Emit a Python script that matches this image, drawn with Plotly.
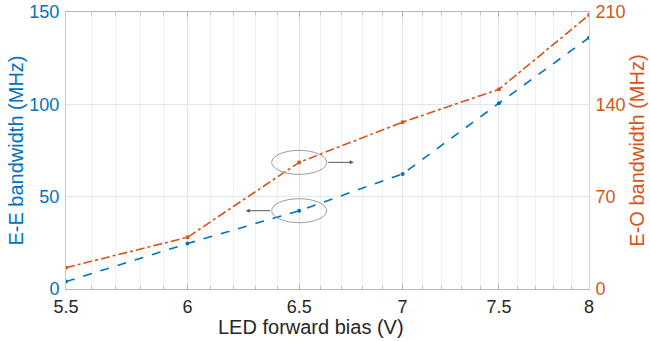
import math
import plotly.graph_objects as go

bias = [5.5, 6.0, 6.5, 7.0, 7.5, 8.0]
ee_bw = [4.0, 24.6, 42.4, 62.3, 100.6, 136.1]
eo_bw = [16.2, 39.2, 96.0, 126.5, 151.4, 207.7]
x_ticks = [5.5, 6, 6.5, 7, 7.5, 8]
x_labels = ["5.5", "6", "6.5", "7", "7.5", "8"]
yl_ticks = [0, 50, 100, 150]
yr_ticks = [0, 70, 140, 210]

BLUE = "#0072BD"
ORANGE = "#D95319"
FONT = "Liberation Sans, Arial, sans-serif"

minor_vals = [round(5.5 + 0.1 * i, 1) for i in range(26)]
minor_vals = [v for v in minor_vals if v not in x_ticks]

fig = go.Figure()
fig.add_trace(go.Scatter(
    x=bias, y=ee_bw, mode="lines+markers", name="E-E",
    line=dict(color=BLUE, width=1.6, dash="dash"),
    marker=dict(symbol="circle", size=4, color=BLUE),
    yaxis="y"))
fig.add_trace(go.Scatter(
    x=bias, y=eo_bw, mode="lines+markers", name="E-O",
    line=dict(color=ORANGE, width=1.6, dash="dashdot"),
    marker=dict(symbol="square", size=3.5, color=ORANGE),
    yaxis="y2"))

L, R, T, B = 66, 61, 12, 52
W, H = 650, 341
pw, ph = W - L - R, H - T - B
lx0, lx1 = math.log10(x_ticks[0]), math.log10(x_ticks[-1])

def xp(v):
    return (math.log10(v) - lx0) / (lx1 - lx0)

# ellipse annotations around the 6.5 V points
ew, eh = 55 / pw, 24 / ph
cx = xp(6.5)
cy_o = eo_bw[2] / 210
cy_b = ee_bw[2] / 150
shapes = []
for cy in (cy_o, cy_b):
    shapes.append(dict(type="circle", xref="paper", yref="paper",
                       x0=cx - ew / 2, x1=cx + ew / 2, y0=cy - eh / 2, y1=cy + eh / 2,
                       line=dict(color="#9a9a9a", width=1)))

annotations = [
    dict(xref="paper", yref="paper", x=cx + ew / 2 + 27 / pw, y=cy_o, text="",
         showarrow=True, ax=-27, ay=0, arrowhead=2, arrowsize=0.8, arrowwidth=1,
         arrowcolor="#555555"),
    dict(xref="paper", yref="paper", x=cx - ew / 2 - 26 / pw, y=cy_b, text="",
         showarrow=True, ax=26, ay=0, arrowhead=2, arrowsize=0.8, arrowwidth=1,
         arrowcolor="#555555"),
    dict(xref="paper", yref="paper", x=(311 - L) / pw, y=-(327 - T - ph) / ph,
         text="LED forward bias (V)", showarrow=False, xanchor="center", yanchor="middle",
         font=dict(family=FONT, size=20, color="#262626")),
]

fig.update_layout(
    width=W, height=H,
    margin=dict(l=L, r=R, t=T, b=B),
    paper_bgcolor="white", plot_bgcolor="white",
    showlegend=False,
    font=dict(family=FONT, size=18, color="#262626"),
    shapes=shapes, annotations=annotations,
    xaxis=dict(
        type="log", range=[lx0, lx1], automargin=False,
        tickmode="array", tickvals=x_ticks, ticktext=x_labels,
        ticks="inside", ticklen=5, tickcolor="#b0b0b0",
        showline=True, linecolor="#b8b8b8", linewidth=1, mirror="ticks",
        showgrid=True, gridcolor="#e2e2e2", gridwidth=1,
        minor=dict(tickmode="array", tickvals=minor_vals, ticks="inside", ticklen=3,
                   tickcolor="#c0c0c0", showgrid=True, gridcolor="#f0f0f0", gridwidth=1),
        tickfont=dict(size=18, color="#262626"),
        ticklabelstandoff=1,
        zeroline=False,
    ),
    yaxis=dict(
        range=[0, 150], tickmode="array", tickvals=yl_ticks, automargin=False,
        ticks="", showline=True, linecolor="#a9cbe6", linewidth=1,
        showgrid=True, gridcolor="#dbe9f4", gridwidth=1, zeroline=False,
        tickfont=dict(size=18, color=BLUE), ticklabelstandoff=2,
        title=dict(text="E-E bandwidth (MHz)", font=dict(size=20, color=BLUE), standoff=0),
    ),
    yaxis2=dict(
        range=[0, 210], tickmode="array", tickvals=yr_ticks, automargin=False,
        overlaying="y", side="right", anchor="x",
        ticks="", showline=True, linecolor="#f3cdbd", linewidth=1,
        showgrid=False, zeroline=False,
        tickfont=dict(size=18, color=ORANGE), ticklabelstandoff=2,
        title=dict(text="E-O bandwidth (MHz)", font=dict(size=20, color=ORANGE), standoff=0),
    ),
)

fig.write_html("out.html")
